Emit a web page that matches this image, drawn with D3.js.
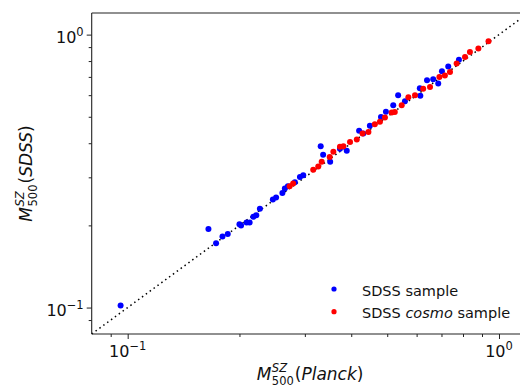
<!DOCTYPE html>
<html>
<head>
<meta charset="utf-8">
<script src="https://cdn.jsdelivr.net/npm/d3@7"></script>
<style>
  html, body { margin: 0; padding: 0; background: #fff; overflow: hidden; }
  svg { display: block; overflow: hidden; font-family: "DejaVu Sans", sans-serif; }
</style>
</head>
<body>
<svg id="chart" width="520" height="392"></svg>
<script>
// Cluster masses: Planck SZ estimate (x) vs SDSS-based SZ estimate (y), in 1e15 Msun
const sdssPlanck = [0.0957, 0.165, 0.173, 0.180, 0.186, 0.200, 0.202, 0.209, 0.213, 0.218,
  0.222, 0.227, 0.246, 0.251, 0.261, 0.265, 0.270, 0.282, 0.291, 0.297,
  0.331, 0.336, 0.351, 0.373, 0.389, 0.420, 0.431, 0.449, 0.481, 0.496,
  0.519, 0.535, 0.558, 0.612, 0.614, 0.640, 0.665, 0.686, 0.702, 0.730, 0.780];
const sdssSDSS = [0.1017, 0.194, 0.172, 0.182, 0.186, 0.202, 0.200, 0.205, 0.205, 0.215,
  0.218, 0.230, 0.249, 0.253, 0.263, 0.273, 0.278, 0.288, 0.301, 0.305,
  0.390, 0.363, 0.342, 0.382, 0.375, 0.444, 0.434, 0.464, 0.499, 0.522,
  0.551, 0.600, 0.570, 0.636, 0.597, 0.681, 0.686, 0.662, 0.734, 0.764, 0.809];

const cosmoPlanck = [0.273, 0.279, 0.316, 0.326, 0.333, 0.350, 0.358, 0.373, 0.381, 0.397,
  0.414, 0.429, 0.445, 0.463, 0.478, 0.493, 0.514, 0.524, 0.547, 0.570,
  0.594, 0.625, 0.652, 0.691, 0.715, 0.738, 0.769, 0.810, 0.835, 0.880, 0.937];
const cosmoSDSS = [0.278, 0.285, 0.320, 0.329, 0.342, 0.356, 0.372, 0.388, 0.390, 0.404,
  0.413, 0.434, 0.440, 0.469, 0.479, 0.497, 0.518, 0.521, 0.551, 0.589,
  0.599, 0.634, 0.643, 0.700, 0.709, 0.730, 0.783, 0.828, 0.864, 0.889, 0.945];

const axisDomain = [0.08, 1.2];
const majorTicks = [0.1, 1];
const majorTickLabels = [["10", "\u22121"], ["10", "0"]];
const minorTicks = [0.09, 0.2, 0.3, 0.4, 0.5, 0.6, 0.7, 0.8, 0.9];
const legendItems = [
  { label: ["SDSS ", "", "sample"], color: "#0000ff" },
  { label: ["SDSS ", "cosmo", " sample"], color: "#ff0000" }
];

const W = 520, H = 392;
const svg = d3.select("#chart");
// the axes box runs slightly past the right edge of the page
const plot = { left: 91.7, right: 528.4, top: 13, bottom: 334 };
const visibleRight = W;

const x = d3.scaleLog().domain(axisDomain).range([plot.left, plot.right]);
const y = d3.scaleLog().domain(axisDomain).range([plot.bottom, plot.top]);

// one-to-one reference line, from the lower axis limit to the page edge
const lineEnds = [axisDomain[0], x.invert(visibleRight)];
svg.append("line")
  .attr("x1", x(lineEnds[0])).attr("y1", y(lineEnds[0]))
  .attr("x2", x(lineEnds[1])).attr("y2", y(lineEnds[1]))
  .attr("stroke", "#000").attr("stroke-width", 1.5)
  .attr("stroke-dasharray", "1.5,3.3");

// full SDSS sample, then the cosmology subsample on top
svg.append("g").selectAll("circle")
  .data(d3.zip(sdssPlanck, sdssSDSS))
  .join("circle")
  .attr("cx", d => x(d[0])).attr("cy", d => y(d[1]))
  .attr("r", 3).attr("fill", "#0000ff");

svg.append("g").selectAll("circle")
  .data(d3.zip(cosmoPlanck, cosmoSDSS))
  .join("circle")
  .attr("cx", d => x(d[0])).attr("cy", d => y(d[1]))
  .attr("r", 3).attr("fill", "#ff0000");

// axes: ticks from the scales, labels in 10^n form
const xAxis = d3.axisBottom(x).tickValues(majorTicks).tickSize(5).tickFormat("");
const xMinor = d3.axisBottom(x).tickValues(minorTicks).tickSize(3).tickFormat("");
const yAxis = d3.axisLeft(y).tickValues(majorTicks).tickSize(5).tickFormat("");
const yMinor = d3.axisLeft(y).tickValues(minorTicks).tickSize(3).tickFormat("");

const gx = svg.append("g").attr("transform", `translate(0,${plot.bottom})`);
gx.call(xAxis); gx.append("g").call(xMinor);
const gy = svg.append("g").attr("transform", `translate(${plot.left},0)`);
gy.call(yAxis); gy.append("g").call(yMinor);

svg.selectAll(".domain").remove();
svg.selectAll(".tick line").attr("stroke", "#222").attr("stroke-width", 1);

// spines (the right one falls outside the page)
const spines = [
  [plot.left, plot.bottom, visibleRight, plot.bottom],
  [plot.left, plot.top, visibleRight, plot.top],
  [plot.left, plot.top, plot.left, plot.bottom]
];
svg.append("g").selectAll("line").data(spines).join("line")
  .attr("x1", d => d[0]).attr("y1", d => d[1])
  .attr("x2", d => d[2]).attr("y2", d => d[3])
  .attr("stroke", "#222").attr("stroke-width", 1.1);

function powerLabel(sel, parts) {
  sel.append("tspan").text(parts[0]);
  sel.append("tspan").attr("dy", -7).attr("font-size", 11.5).text(parts[1]);
}

majorTicks.forEach((v, i) => {
  const tx = svg.append("text")
    .attr("x", x(v)).attr("y", plot.bottom + 23)
    .attr("text-anchor", "middle").attr("font-size", 16).attr("fill", "#111");
  powerLabel(tx, majorTickLabels[i]);
  const ty = svg.append("text")
    .attr("x", plot.left - 8).attr("y", y(v) + 8)
    .attr("text-anchor", "end").attr("font-size", 16).attr("fill", "#111");
  powerLabel(ty, majorTickLabels[i]);
});

// axis titles: M with stacked SZ superscript and 500 subscript
function massLabel(g, survey) {
  const fs = 17;
  const main = g.append("text").attr("font-size", fs).attr("fill", "#111");
  main.append("tspan").attr("font-style", "italic").text("M");
  const mW = main.node().getComputedTextLength();
  const sub = g.append("text").attr("x", mW + 0.5).attr("y", 5)
    .attr("font-size", 11.5).attr("fill", "#111").text("500");
  g.append("text").attr("x", mW + 0.5).attr("y", -8)
    .attr("font-size", 11.5).attr("font-style", "italic").attr("fill", "#111").text("SZ");
  const sW = sub.node().getComputedTextLength();
  const rest = g.append("text").attr("x", mW + sW + 1.5).attr("font-size", fs).attr("fill", "#111");
  rest.append("tspan").text("(");
  rest.append("tspan").attr("font-style", "italic").text(survey);
  rest.append("tspan").text(")");
  return mW + sW + 1.5 + rest.node().getComputedTextLength();
}

const xt = svg.append("g");
const xw = massLabel(xt, "Planck");
xt.attr("transform", `translate(${(plot.left + plot.right) / 2 - xw / 2},380)`);

const yt = svg.append("g");
const yw = massLabel(yt, "SDSS");
yt.attr("transform", `translate(32,${(plot.top + plot.bottom) / 2 + yw / 2}) rotate(-90)`);

// legend
const legend = svg.append("g");
legendItems.forEach((item, i) => {
  const yy = 289 + i * 22.7;
  legend.append("circle").attr("cx", 334).attr("cy", yy).attr("r", 2.6).attr("fill", item.color);
  const t = legend.append("text").attr("x", 362).attr("y", yy + 6.5)
    .attr("font-size", 14.5).attr("fill", "#111");
  t.append("tspan").text(item.label[0]);
  if (item.label[1]) t.append("tspan").attr("font-style", "italic").text(item.label[1]);
  t.append("tspan").text(item.label[2]);
});
</script>
</body>
</html>
